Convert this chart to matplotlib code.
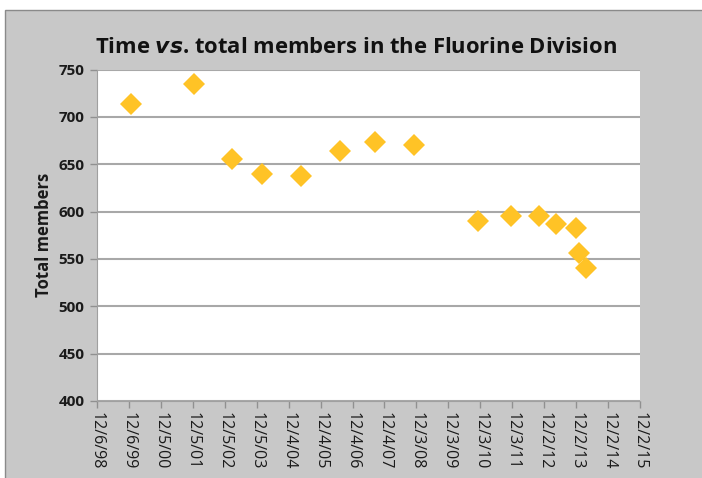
import matplotlib
matplotlib.use("Agg")
import matplotlib.pyplot as plt
from datetime import datetime, timedelta
from matplotlib.patches import Rectangle

# Data
dates = ["1999-12-26", "2001-12-23", "2003-02-24", "2004-02-09", "2005-04-23",
         "2006-07-17", "2007-08-13", "2008-11-01", "2010-11-08", "2011-11-21",
         "2012-10-01", "2013-04-11", "2013-11-29", "2014-01-02", "2014-03-28"]
members = [714, 735, 655, 640, 638, 664, 673, 670, 590, 595, 595, 587, 583, 556, 540]

# x axis: 18 ticks, every 365 days starting 12/6/98
tick_start = datetime(1998, 12, 6)
n_ticks = 18
y_ticks = [400, 450, 500, 550, 600, 650, 700, 750]

x = [datetime.strptime(d, "%Y-%m-%d") for d in dates]
xticks = [tick_start + timedelta(days=365 * k) for k in range(n_ticks)]
xlabels = [f"{t.month}/{t.day}/{t.year % 100:02d}" for t in xticks]

fig = plt.figure(figsize=(7.02, 4.78), dpi=100)
fig.patch.set_facecolor("white")

# gray chart area with thin border
bg = Rectangle((5 / 702, -0.01), 1, 1.01 - 10 / 478, transform=fig.transFigure,
               facecolor="#c8c8c8", edgecolor="#8a8a8a", linewidth=1.0, zorder=-10)
fig.patches.append(bg)

ax = fig.add_axes([97 / 702, 77 / 478, 543 / 702, 331.5 / 478])
ax.set_facecolor("white")

ax.plot(x, members, linestyle="none", marker="D", markersize=11,
        color="#FFC326", markeredgewidth=0, zorder=3)

ax.set_xlim(xticks[0], xticks[-1])
ax.set_ylim(400, 750)
ax.set_xticks(xticks)
ax.set_xticklabels(xlabels, rotation=270, fontsize=11.5, color="#1a1a1a",
                   family="Open Sans")
ax.set_yticks(y_ticks)
ax.set_yticklabels([str(v) for v in y_ticks], fontsize=11, fontweight="bold",
                   color="#1a1a1a", family="Open Sans")

ax.yaxis.grid(True, color="#a8a8a8", linewidth=1.5)
ax.set_axisbelow(True)
for side in ["top", "right"]:
    ax.spines[side].set_visible(False)
ax.spines["left"].set_color("#a0a0a0")
ax.spines["bottom"].set_color("#a0a0a0")
ax.tick_params(axis="both", colors="#909090", length=5, width=1)
ax.tick_params(axis="x", labelcolor="#1a1a1a", pad=3)
ax.tick_params(axis="y", labelcolor="#1a1a1a", pad=4)

ax.set_ylabel("Total members", fontsize=12, fontweight="bold", family="Open Sans",
              color="#1a1a1a", labelpad=4)

fig.text(356 / 702, 1 - 47 / 478,
         r"Time $\mathbfit{vs}$. total members in the Fluorine Division",
         ha="center", va="center", fontsize=15.8, fontweight="bold",
         family="Open Sans", color="#111111")

fig.savefig("out.png", dpi=100, facecolor=fig.get_facecolor())
